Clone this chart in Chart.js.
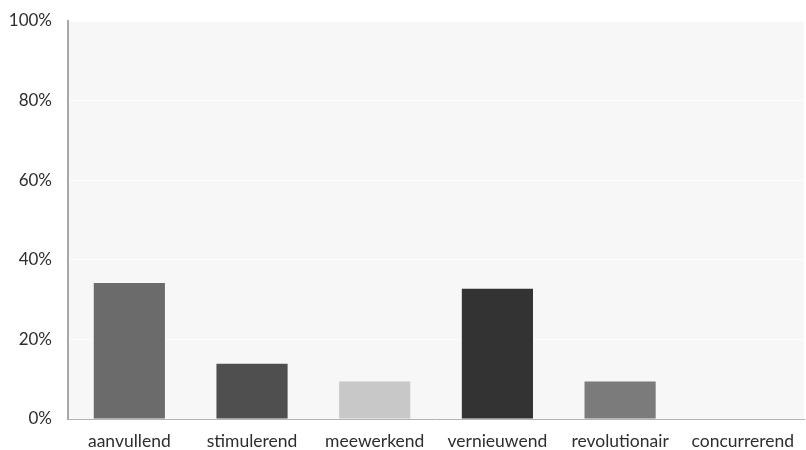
<!DOCTYPE html>
<html>
<head>
<meta charset="utf-8">
<script src="https://cdn.jsdelivr.net/npm/chart.js@4/dist/chart.umd.min.js"></script>
<style>
  html, body { margin: 0; padding: 0; background: #ffffff; }
  #wrap { width: 806px; height: 450px; }
</style>
</head>
<body>
<div id="wrap"><canvas id="chart" width="806" height="450"></canvas></div>
<script>
// categorieen en waarden (in %)
const categories = ['aanvullend', 'stimulerend', 'meewerkend', 'vernieuwend', 'revolutionair', 'concurrerend'];
const values = [34.2, 13.9, 9.4, 32.7, 9.4, 0];
const barColors = ['#6b6b6b', '#4f4f4f', '#c8c8c8', '#333333', '#7b7b7b', '#7b7b7b'];
const yTicks = [0, 20, 40, 60, 80, 100];

// achtergrond van het plotgebied
const plotBackground = {
    id: 'plotBackground',
    beforeDraw(chart) {
        const { ctx, chartArea } = chart;
        ctx.save();
        ctx.fillStyle = '#f7f7f7';
        ctx.fillRect(chartArea.left, chartArea.top, chartArea.right - chartArea.left, chartArea.bottom - chartArea.top);
        ctx.restore();
    }
};

const ctx = document.getElementById('chart').getContext('2d');
new Chart(ctx, {
    type: 'bar',
    data: {
        labels: categories,
        datasets: [{
            data: values,
            backgroundColor: barColors,
            borderWidth: 0,
            barPercentage: 0.58,
            categoryPercentage: 1.0
        }]
    },
    options: {
        responsive: false,
        animation: false,
        layout: { padding: { top: 21, right: 0, left: 0, bottom: 0 } },
        plugins: {
            legend: { display: false },
            tooltip: { enabled: false }
        },
        scales: {
            x: {
                grid: { display: false, drawTicks: false },
                border: { color: '#b4b4b4', width: 1 },
                ticks: {
                    color: '#2e2e2e',
                    font: { family: 'Lato', size: 17.5 },
                    padding: 12,
                    maxRotation: 0,
                    autoSkip: false
                },
                afterFit(scale) { scale.height = 31; }
            },
            y: {
                min: 0,
                max: 100,
                afterBuildTicks(scale) { scale.ticks = yTicks.map(v => ({ value: v })); },
                grid: { color: '#fdfdfd', drawTicks: false },
                border: { color: '#a8a8a8', width: 2 },
                ticks: {
                    color: '#2e2e2e',
                    font: { family: 'Lato', size: 17 },
                    padding: 16,
                    callback: v => v + '%'
                },
                afterFit(scale) {
                    scale.width = 68;
                    scale.paddingTop = 0;
                    scale.paddingBottom = 0;
                }
            }
        }
    },
    plugins: [plotBackground]
});
</script>
</body>
</html>
